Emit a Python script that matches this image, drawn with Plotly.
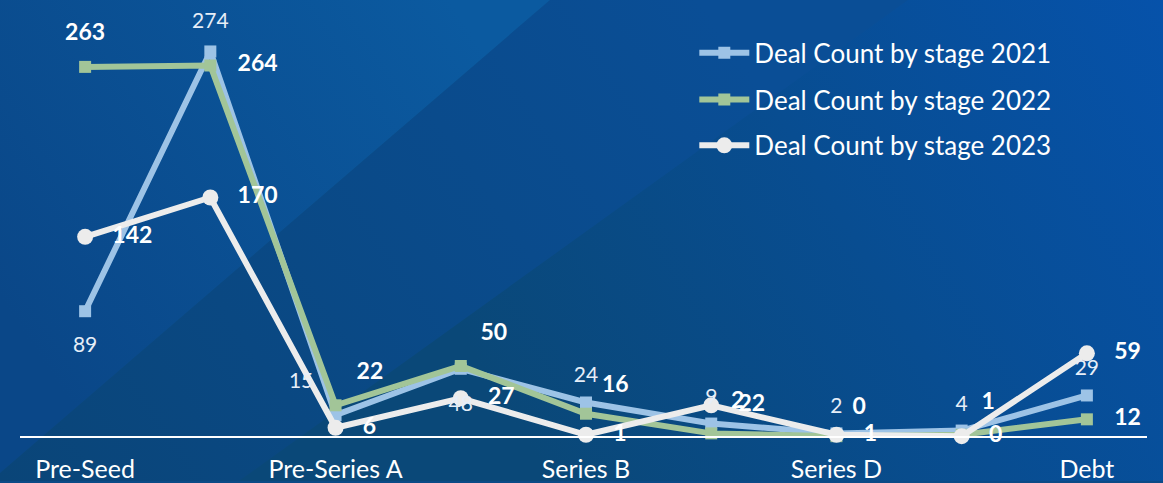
import base64
import plotly.graph_objects as go

W, H = 1163, 483

stages = ["Pre-Seed", "Seed", "Pre-Series A", "Series A", "Series B",
          "Series C", "Series D", "Series E", "Debt"]
tick_stages = ["Pre-Seed", "Pre-Series A", "Series B", "Series D", "Debt"]

deals_2021 = [89, 274, 15, 48, 24, 9, 2, 4, 29]
deals_2022 = [263, 264, 22, 50, 16, 2, 0, 1, 12]
deals_2023 = [142, 170, 6, 27, 1, 22, 1, 0, 59]

names = ["Deal Count by stage 2021", "Deal Count by stage 2022", "Deal Count by stage 2023"]

pos_2021 = ["bottom center", "top center", "top left", "bottom center", "top center",
            "top center", "top center", "top center", "top center"]
pos_2022 = ["top center", "middle right", "top right", "top right", "top right",
            "top right", "top right", "top right", "middle right"]
pos_2023 = ["middle right", "middle right", "middle right", "middle right", "middle right",
            "middle right", "middle right", "middle right", "middle right"]

# label distance helpers (invisible spacer marker sizes)
gap_2021 = [38, 28, 34, 40, 22, 22, 22, 22, 22]
gap_2022 = [32, 42, 32, 30, 24, 30, 24, 30, 42]
gap_2023 = [42, 42, 42, 42, 42, 42, 42, 42, 42]

FONT = "Lato, 'Open Sans', sans-serif"

svg = f'''<svg xmlns="http://www.w3.org/2000/svg" width="{W}" height="{H}" viewBox="0 0 {W} {H}" preserveAspectRatio="none">
<defs>
<linearGradient id="gR" gradientUnits="userSpaceOnUse" x1="500" y1="400" x2="1163" y2="0"><stop offset="0" stop-color="#0a4878"/><stop offset="1" stop-color="#0652aa"/></linearGradient>
<linearGradient id="gM" gradientUnits="userSpaceOnUse" x1="0" y1="483" x2="700" y2="0"><stop offset="0" stop-color="#0a4578"/><stop offset="1" stop-color="#0a4e96"/></linearGradient>
<linearGradient id="gL" gradientUnits="userSpaceOnUse" x1="0" y1="300" x2="450" y2="0"><stop offset="0" stop-color="#0a4788"/><stop offset="1" stop-color="#0b5aa0"/></linearGradient>
</defs>
<rect width="{W}" height="{H}" fill="url(#gR)"/>
<polygon points="550,0 908,0 239,483 0,483 0,475" fill="url(#gM)"/>
<polygon points="0,0 550,0 0,475" fill="url(#gL)"/>
</svg>'''
bg_uri = "data:image/svg+xml;base64," + base64.b64encode(svg.encode()).decode()

series = [
    dict(y=deals_2021, name=names[0], color="#9dc3e6", symbol="square", size=12,
         pos=pos_2021, tsize=21, tcolor="#e6eef8", weight="normal", gap=gap_2021, legend="legend"),
    dict(y=deals_2022, name=names[1], color="#a2c598", symbol="square", size=12,
         pos=pos_2022, tsize=23, tcolor="#ffffff", weight="bold", gap=gap_2022, legend="legend2"),
    dict(y=deals_2023, name=names[2], color="#ececec", symbol="circle", size=16,
         pos=pos_2023, tsize=23, tcolor="#ffffff", weight="bold", gap=gap_2023, legend="legend3"),
]

fig = go.Figure()

for s in series:
    fig.add_trace(go.Scatter(
        x=stages, y=s["y"], name=s["name"], mode="lines+markers",
        line=dict(color=s["color"], width=6),
        marker=dict(symbol=s["symbol"], size=s["size"], color=s["color"],
                    line=dict(width=0)),
        cliponaxis=False, legend=s["legend"], hoverinfo="skip",
    ))

for s in series:
    fig.add_trace(go.Scatter(
        x=stages, y=s["y"], mode="markers+text", showlegend=False,
        marker=dict(size=s["gap"], color="rgba(0,0,0,0)", opacity=0,
                    line=dict(width=0, color="rgba(0,0,0,0)")),
        text=[str(v) for v in s["y"]], textposition=s["pos"],
        textfont=dict(family=FONT, size=s["tsize"], color=s["tcolor"], weight=s["weight"]),
        cliponaxis=False, hoverinfo="skip",
    ))

leg_common = dict(font=dict(family=FONT, size=26, color="#ffffff"),
                  bgcolor="rgba(0,0,0,0)", xanchor="left", yanchor="middle",
                  itemwidth=50)

fig.update_layout(
    width=W, height=H,
    margin=dict(l=0, r=0, t=0, b=0),
    paper_bgcolor="#0b4a86",
    plot_bgcolor="rgba(0,0,0,0)",
    images=[dict(source=bg_uri, xref="paper", yref="paper", x=0, y=1,
                 sizex=1, sizey=1, xanchor="left", yanchor="top",
                 sizing="stretch", layer="below")],
    xaxis=dict(domain=[20 / W, 1147 / W], range=[-0.52, 8.48], type="category",
               categoryorder="array", categoryarray=stages,
               tickvals=tick_stages, ticktext=tick_stages,
               showgrid=False, zeroline=False, showline=True,
               linecolor="#ffffff", linewidth=1.5,
               ticks="outside", ticklen=10, tickcolor="rgba(0,0,0,0)",
               tickfont=dict(family=FONT, size=25, color="#ffffff")),
    yaxis=dict(domain=[(H - 438) / H, (H - 15) / H], range=[0, 300],
               visible=False),
    showlegend=True,
    hovermode=False,
    legend=dict(x=0.597, y=(H - 53) / H, **leg_common),
    legend2=dict(x=0.597, y=(H - 100) / H, **leg_common),
    legend3=dict(x=0.597, y=(H - 146) / H, **leg_common),
)

fig.write_html("out.html")
